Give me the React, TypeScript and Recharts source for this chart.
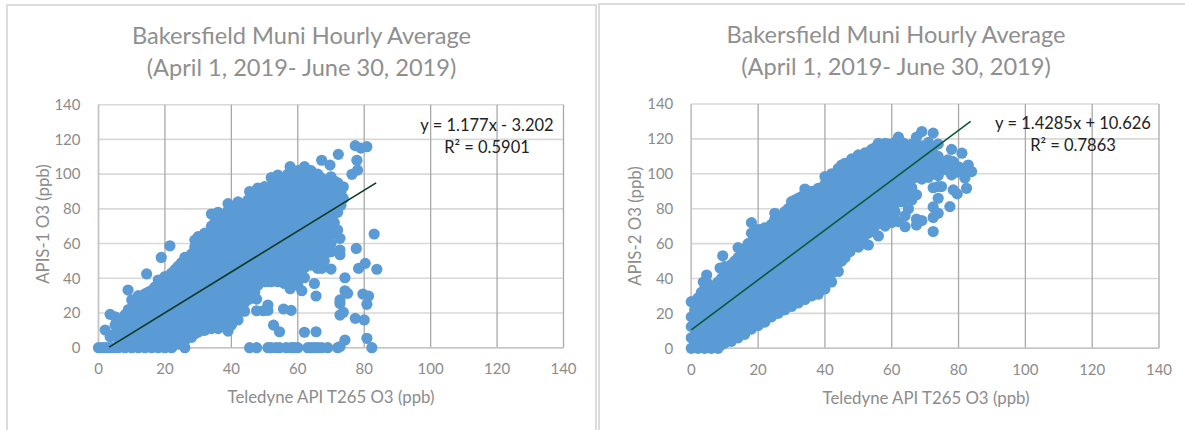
import React from 'react';
import { ScatterChart, Scatter, XAxis, YAxis, CartesianGrid } from 'recharts';

const axisTicks = [0, 20, 40, 60, 80, 100, 120, 140];
const titleLines = ['Bakersfield Muni Hourly Average', '(April 1, 2019- June 30, 2019)'];
const xAxisTitle = 'Teledyne API T265 O3 (ppb)';

// [x, y values read at that x]
const apis1Columns: [number, number[]][] = [
  [0, [0]], [1, [0]], [2, [0, 10.2]], [3, [0]], [3.5, [6.3, 19.2]], [4, [0, 7]], [5, [0, 8, 13, 17.8]],
  [6, [0, 5, 10, 14]], [8, [0, 5, 10, 15, 19]], [8.9, [33.2]], [10, [0, 5, 10, 15, 20, 27.5]],
  [12, [0, 5, 10, 15, 20, 25, 30]], [14, [0, 5, 10, 15, 20, 25, 31]], [14.5, [42.5]],
  [16, [0, 5, 10, 15, 20, 25, 30, 33]], [18, [0, 5, 10, 15, 20, 25, 30, 35, 39]], [18.9, [52]],
  [20, [0, 5, 10, 15, 20, 25, 30, 35, 41]], [21.5, [58.7]], [22, [0, 5, 10, 15, 20, 25, 30, 35, 39, 43]],
  [24, [2, 6, 11, 16, 21, 26, 31, 36, 41, 47]], [26, [0, 4, 9, 14, 19, 24, 29, 34, 39, 44, 49, 52]],
  [28, [6, 11, 16, 21, 26, 31, 36, 41, 46, 51, 54]], [30, [9, 14, 19, 24, 29, 34, 39, 44, 49, 54, 59, 64]],
  [32, [10, 15, 20, 25, 30, 35, 40, 45, 50, 55, 60, 66]], [34, [11, 16, 21, 26, 31, 36, 41, 46, 51, 56, 61, 66, 70, 77]],
  [36, [11, 16, 21, 26, 31, 36, 41, 46, 51, 56, 61, 66, 71, 78]], [38, [12, 17, 22, 27, 32, 37, 42, 47, 52, 57, 62, 67, 72, 76]],
  [39, [9.6, 83]], [40, [13, 18, 23, 28, 33, 38, 43, 48, 53, 58, 63, 68, 73, 78, 81]],
  [42, [16, 21, 26, 31, 36, 41, 46, 51, 56, 61, 66, 71, 76, 81, 84]], [44, [21, 26, 31, 36, 41, 46, 51, 56, 61, 66, 71, 76, 81, 83]],
  [45.5, [0, 28, 90]], [46, [33, 38, 43, 48, 53, 58, 63, 68, 73, 78, 83, 87]], [47.6, [0, 21.3, 28]],
  [48, [36, 41, 46, 51, 56, 61, 66, 71, 76, 81, 86, 92]], [49.6, [21.3]], [50, [38, 43, 48, 53, 58, 63, 68, 73, 78, 83, 88, 92.8]],
  [51, [0, 21.5, 24.6]], [52, [0, 38, 43, 48, 53, 58, 63, 68, 73, 78, 83, 88, 93, 98]], [52.7, [13]], [53.5, [0]], [54.5, [0, 9.2]],
  [54, [38, 43, 48, 53, 58, 63, 68, 73, 78, 83, 88, 93, 99.5]], [55.7, [22.3]], [56, [37, 42, 47, 52, 57, 62, 67, 72, 77, 82, 87, 92, 98]],
  [56.5, [0]], [57.7, [34, 104.3]], [58, [0, 21.5, 38, 43, 48, 53, 58, 63, 68, 73, 78, 83, 88, 93, 98]], [59, [0]],
  [60, [0, 36, 42, 47, 52, 57, 62, 67, 72, 77, 82, 87, 92, 97, 102]], [61.2, [32.8]], [62, [8.9, 40.3, 46, 51, 56, 61, 66, 71, 76, 81, 86, 91, 96, 104.3]],
  [63, [0]], [64, [0, 47.6, 52, 57, 62, 67, 72, 77, 82, 87, 92, 97, 102]], [65, [0, 37]], [65.5, [9.2, 29.8]],
  [66, [0, 45.7, 50, 55, 60, 65, 70, 75, 80, 85, 90, 95, 100]], [67.2, [0, 45.7, 108]], [68, [50, 55, 60, 65, 70, 75, 80, 88, 94]], [69, [0, 68.4]],
  [69.7, [105.2]], [70, [45.3, 55.3, 60, 65, 72, 78, 84, 92, 98.5]], [72, [0, 67.8, 78, 84, 90, 95]], [72.2, [111.4]], [72.7, [18.8, 27.5, 25.5, 53.6, 56.3, 63, 0.6]],
  [73.7, [20.4, 86, 92.7]], [74.2, [4.4, 32.8, 40.3]], [75, [31.3]], [76.3, [99.9]], [77.3, [16.9, 116.4]], [77.6, [57.2]], [77.8, [108]], [78, [102.3]],
  [78.3, [45.7]], [79, [115]], [79.6, [30.9]], [80, [16]], [80.3, [48.6]], [80.8, [5.4, 25, 115.8]], [81.3, [29.8]], [82.3, [0]], [83, [65.5]], [83.8, [45.2]],
];

// the dense core of the same cloud, read between the columns above
const apis1Core: [number, number[]][] = [
  [7, [2, 7, 12, 16]], [9, [2, 7, 12, 17, 22]], [11, [2, 7, 12, 17, 22, 27]], [13, [2, 7, 12, 17, 22, 27]],
  [15, [2, 7, 12, 17, 22, 27, 32]], [17, [2, 7, 12, 17, 22, 27, 32, 35]], [19, [2, 7, 12, 17, 22, 27, 32, 37]],
  [21, [2, 7, 12, 17, 22, 27, 32, 37, 40]], [23, [2, 7, 12, 17, 22, 27, 32, 37, 42, 45]],
  [25, [4, 9, 14, 19, 24, 29, 34, 39, 44, 49]], [27, [7, 12, 17, 22, 27, 32, 37, 42, 47, 52]],
  [29, [8, 13, 18, 23, 28, 33, 38, 43, 48, 53, 58, 62]], [31, [10, 15, 20, 25, 30, 35, 40, 45, 50, 55, 60, 64]],
  [33, [12, 17, 22, 27, 32, 37, 42, 47, 52, 57, 62, 66]], [35, [12, 17, 22, 27, 32, 37, 42, 47, 52, 57, 62, 67, 72]],
  [37, [13, 18, 23, 28, 33, 38, 43, 48, 53, 58, 63, 68, 73, 75]], [39, [14, 19, 24, 29, 34, 39, 44, 49, 54, 59, 64, 69, 74, 79]],
  [41, [16, 21, 26, 31, 36, 41, 46, 51, 56, 61, 66, 71, 76, 81]], [43, [21, 26, 31, 36, 41, 46, 51, 56, 61, 66, 71, 76, 81]],
  [45, [28, 33, 38, 43, 48, 53, 58, 63, 68, 73, 78, 83, 85]], [47, [32, 37, 42, 47, 52, 57, 62, 67, 72, 77, 82, 87, 90]],
  [49, [38, 43, 48, 53, 58, 63, 68, 73, 78, 83, 88, 90]], [51, [38, 43, 48, 53, 58, 63, 68, 73, 78, 83, 88, 92]],
  [53, [40, 45, 50, 55, 60, 65, 70, 75, 80, 85, 90, 97]], [55, [38, 43, 48, 53, 58, 63, 68, 73, 78, 83, 88, 93, 97]],
  [57, [38, 43, 48, 53, 58, 63, 68, 73, 78, 83, 88, 93, 100]], [59, [38, 43, 48, 53, 58, 63, 68, 73, 78, 83, 88, 93, 100]],
  [61, [42, 47, 52, 57, 62, 67, 72, 77, 82, 87, 92, 97, 100]], [63, [48, 53, 58, 63, 68, 73, 78, 83, 88, 93, 98, 102]],
  [65, [48, 53, 58, 63, 68, 73, 78, 83, 88, 93, 100]], [67, [50, 55, 60, 65, 70, 75, 80, 85, 90, 98]],
  [69, [55, 60, 65, 72, 77, 82, 87, 95]], [71, [72, 77, 82, 87, 92, 96]], [73, [82, 88, 90]],
];

const apis2Columns: [number, number[]][] = [
  [0, [0, 6, 12.4, 18, 26.7]], [2, [0, 5, 10, 15, 20, 25, 28.8]], [3.6, [38]], [4, [0, 5, 10, 15, 20, 25, 30, 34]], [4.6, [42]],
  [6, [0, 5, 10, 15, 20, 25, 30, 35]], [8, [0, 5, 10, 15, 20, 25, 30, 35, 38]], [9.4, [53]], [8.6, [46]],
  [10, [3, 8, 13, 18, 23, 28, 33, 38, 42, 46.8]], [12, [4, 9, 14, 19, 24, 29, 34, 39, 44, 48]],
  [14, [6, 11, 16, 21, 26, 31, 36, 41, 46, 52, 57.7]], [16, [8, 13, 18, 23, 28, 33, 38, 43, 48, 53, 57]],
  [18, [11, 16, 21, 26, 31, 36, 41, 46, 51, 56, 61, 66, 72]], [20, [13, 18, 23, 28, 33, 38, 43, 48, 53, 58, 63, 68]],
  [22, [15, 20, 25, 30, 35, 40, 45, 50, 55, 60, 65, 69]], [24, [18, 23, 28, 33, 38, 43, 48, 53, 58, 63, 68, 71]], [25, [74, 77.4]],
  [26, [20, 25, 30, 35, 40, 45, 50, 55, 60, 65, 70, 74]], [28, [22, 27, 32, 37, 42, 47, 52, 57, 62, 67, 72, 78.3]],
  [30, [24, 29, 34, 39, 44, 49, 54, 59, 64, 69, 74, 79, 84]], [32, [26, 31, 36, 41, 46, 51, 56, 61, 66, 71, 76, 81, 86]],
  [34, [28, 33, 38, 43, 48, 53, 58, 63, 68, 73, 78, 83, 88, 91.3]], [36, [30, 35, 40, 45, 50, 55, 60, 65, 70, 75, 80, 85, 90]],
  [38, [31, 36, 41, 46, 51, 56, 61, 66, 71, 76, 81, 86, 91.7]], [40, [34, 39, 44, 49, 54, 59, 64, 69, 74, 79, 84, 89, 94, 98.4]],
  [42, [38, 43, 48, 53, 58, 63, 68, 73, 78, 83, 88, 93, 98, 100]], [44, [44, 49, 54, 59, 64, 69, 74, 79, 84, 89, 94, 99, 103]],
  [46, [52, 57, 62, 67, 72, 77, 82, 87, 92, 97, 102, 106]], [47.5, [55.4]], [48, [58, 63, 68, 73, 78, 83, 88, 93, 98, 103, 108.5]],
  [50, [58, 63, 68, 73, 78, 83, 88, 93, 98, 103, 108, 110.8]], [52, [60, 65, 70, 75, 80, 85, 90, 95, 100, 105, 110, 112]],
  [53, [59.2]], [54, [67, 72, 77, 82, 87, 92, 97, 102, 107, 112, 114]], [56, [64.4, 72, 77, 82, 87, 92, 97, 102, 107, 112, 117.5]],
  [58, [70, 75, 80, 85, 90, 95, 100, 105, 110, 115, 117.5]], [60, [72, 77, 82, 87, 92, 97, 102, 107, 112, 117]],
  [62, [72.6, 84, 90, 95, 100, 105, 110, 115, 121]], [64, [69.7, 76, 88, 92, 97, 102, 107, 112, 117]], [66, [85, 92, 97, 102, 107, 112, 117]],
  [67.4, [70.7, 74, 88, 100, 105, 110, 115, 121]], [69, [73.2, 97, 102, 107, 112, 116, 124.2]], [71, [98, 103, 108, 113, 118]], [72.4, [66.9, 75, 81, 92, 100, 106, 112, 123.3]],
  [73.9, [77.4, 86, 92.7, 99, 104, 110, 117]], [74.9, [92.7, 102, 105]], [76.8, [108, 102]], [77.4, [81.2]], [77.9, [99.4, 104, 114]], [78.4, [90.8, 107]],
  [79.6, [88.5, 101]], [80, [104]], [81, [111.8]], [81.9, [97.5, 103]], [82.4, [91.7]], [82.9, [105]], [83.9, [101.3]],
];

const apis2Core: [number, number[]][] = [
  [1, [2, 7, 12, 17, 22]], [3, [2, 7, 12, 17, 22, 27, 32]], [5, [2, 7, 12, 17, 22, 27, 32, 37]], [7, [2, 7, 12, 17, 22, 27, 32, 36]],
  [9, [2, 7, 12, 17, 22, 27, 32, 37, 40]], [11, [5, 10, 15, 20, 25, 30, 35, 40, 46]], [13, [7, 12, 17, 22, 27, 32, 37, 42, 47, 50]],
  [15, [9, 14, 19, 24, 29, 34, 39, 44, 49, 52]], [17, [11, 16, 21, 26, 31, 36, 41, 46, 51, 56, 60]],
  [19, [14, 19, 24, 29, 34, 39, 44, 49, 54, 59, 64, 67]], [21, [16, 21, 26, 31, 36, 41, 46, 51, 56, 61, 66, 68]],
  [23, [18, 23, 28, 33, 38, 43, 48, 53, 58, 63, 69]], [25, [21, 26, 31, 36, 41, 46, 51, 56, 61, 66, 72]],
  [27, [23, 28, 33, 38, 43, 48, 53, 58, 63, 68, 73, 76]], [29, [25, 30, 35, 40, 45, 50, 55, 60, 65, 70, 75, 80]],
  [31, [27, 32, 37, 42, 47, 52, 57, 62, 67, 72, 77, 82, 85]], [33, [29, 34, 39, 44, 49, 54, 59, 64, 69, 74, 79, 84, 87]],
  [35, [31, 36, 41, 46, 51, 56, 61, 66, 71, 76, 81, 86, 89]], [37, [33, 38, 43, 48, 53, 58, 63, 68, 73, 78, 83, 89]],
  [39, [35, 40, 45, 50, 55, 60, 65, 70, 75, 80, 85, 92]], [41, [38, 43, 48, 53, 58, 63, 68, 73, 78, 83, 88, 93, 98]],
  [43, [45, 50, 55, 60, 65, 70, 75, 80, 85, 90, 95, 100]], [45, [50, 55, 60, 65, 70, 75, 80, 85, 90, 95, 100, 105]],
  [47, [57, 62, 67, 72, 77, 82, 87, 92, 97, 102, 106]], [49, [60, 65, 70, 75, 80, 85, 90, 95, 100, 105, 108]],
  [51, [62, 67, 72, 77, 82, 87, 92, 97, 102, 107, 110]], [53, [66, 71, 76, 81, 86, 91, 96, 101, 106, 112]],
  [55, [70, 75, 80, 85, 90, 95, 100, 105, 110, 115]], [57, [72, 77, 82, 87, 92, 97, 102, 107, 112, 116]],
  [59, [76, 81, 86, 91, 96, 101, 106, 111, 117]], [61, [78, 83, 88, 93, 98, 103, 108, 113, 118]],
  [63, [84, 89, 94, 99, 104, 109, 114, 118]], [65, [80, 90, 95, 100, 105, 110, 116]], [67, [88, 98, 103, 108, 115]],
  [69, [104, 109, 114]], [71, [100, 105, 110, 115]],
];

const trend1 = [{ x: 3.2, y: 0.3 }, { x: 83.6, y: 95 }];
const trend2 = [{ x: 0, y: 10.6 }, { x: 83.6, y: 130 }];

const toPoints = (cols: [number, number[]][]) => cols.flatMap(([x, ys]) => ys.map((y) => ({ x, y })));

const FONT = 'Lato, "Open Sans", sans-serif';
const GREY = '#8c8c8c';

const dot = (p: any) => <circle cx={p.cx} cy={p.cy} r={5.6} fill="#5b9bd5" />;
const noDot = () => <g />;

type PanelProps = {
  left: number; plotLeft: number; plotRight: number; plotTop: number; plotBottom: number;
  yTitle: string; yTitleX: number; yTitleY: number; xTitleX: number; xTitleY: number;
  titleX: number; titleY: number; eqX: number; eqY: number; eq: string; r2: string;
  cols: [number, number[]][]; trend: { x: number; y: number }[]; trendColor: string;
};

const Abs = ({ x, y, size, color, children, rotate }: any) => (
  <div style={{
    position: 'absolute', left: x, top: y, transform: `translate(-50%,-50%)${rotate ? ' rotate(-90deg)' : ''}`,
    whiteSpace: 'nowrap', fontFamily: FONT, fontSize: size, color, lineHeight: 1,
  }}>{children}</div>
);

const W = 1185;
const H = 430;

function Panel(p: PanelProps) {
  return (
    <>
      <div style={{ position: 'absolute', left: p.left, top: 0 }}>
        <ScatterChart
          width={W - p.left > 595 ? 595 : W - p.left}
          height={H}
          margin={{
            top: p.plotTop, bottom: H - p.plotBottom - 40,
            left: p.plotLeft - p.left - 40,
            right: (W - p.left > 595 ? 595 : W - p.left) - (p.plotRight - p.left),
          }}
        >
          <CartesianGrid horizontal vertical={false} stroke="#d9d9d9" strokeWidth={1.6} />
          <CartesianGrid horizontal={false} vertical stroke="#a9a9a9" strokeWidth={1.3} />
          <XAxis
            type="number" dataKey="x" domain={[0, 140]} ticks={axisTicks} interval={0} height={40}
            axisLine={{ stroke: '#c4c4c4', strokeWidth: 1.5 }} tickLine={false} tickMargin={10}
            tick={{ fill: GREY, fontSize: 15, fontFamily: FONT }}
          />
          <YAxis
            type="number" dataKey="y" domain={[0, 140]} ticks={axisTicks} interval={0} width={40}
            axisLine={{ stroke: '#c4c4c4', strokeWidth: 1.5 }} tickLine={false} tickMargin={12}
            tick={{ fill: GREY, fontSize: 15, fontFamily: FONT }}
          />
          <Scatter data={toPoints(p.cols)} shape={dot} isAnimationActive={false} />
          <Scatter
            data={p.trend} shape={noDot} isAnimationActive={false}
            line={{ stroke: p.trendColor, strokeWidth: 1.6 }}
          />
        </ScatterChart>
      </div>
      <Abs x={p.titleX} y={p.titleY} size={23.6} color="#8f8f8f">{titleLines[0]}</Abs>
      <Abs x={p.titleX} y={p.titleY + 32} size={23.6} color="#8f8f8f">{titleLines[1]}</Abs>
      <Abs x={p.xTitleX} y={p.xTitleY} size={16.8} color={GREY}>{xAxisTitle}</Abs>
      <Abs x={p.yTitleX} y={p.yTitleY} size={16.8} color={GREY} rotate>{p.yTitle}</Abs>
      <Abs x={p.eqX} y={p.eqY} size={16.5} color="#222">{p.eq}</Abs>
      <Abs x={p.eqX} y={p.eqY + 22} size={16.5} color="#222">{p.r2}</Abs>
    </>
  );
}

export default function App() {
  return (
    <div style={{ position: 'absolute', left: 0, top: 0, width: W, height: H, overflow: 'hidden', background: '#fff' }}>
      <div style={{ position: 'absolute', left: 6, top: 4, width: 587, height: 424, border: '2px solid #dcdcdc' }} />
      <div style={{ position: 'absolute', left: 598, top: 3, width: 600, height: 440, border: '2px solid #dcdcdc' }} />
      <Panel
        left={0} plotLeft={98.5} plotRight={563.5} plotTop={104.7} plotBottom={347.7}
        yTitle="APIS-1 O3 (ppb)" yTitleX={43} yTitleY={224} xTitleX={331} xTitleY={397}
        titleX={301.5} titleY={36} eqX={487} eqY={125} eq="y = 1.177x - 3.202" r2="R² = 0.5901"
        cols={[...apis1Core, ...apis1Columns]} trend={trend1} trendColor="#08391f"
      />
      <Panel
        left={590} plotLeft={691.3} plotRight={1159} plotTop={104} plotBottom={348.3}
        yTitle="APIS-2 O3 (ppb)" yTitleX={635} yTitleY={226} xTitleX={926} xTitleY={398}
        titleX={896} titleY={35} eqX={1073} eqY={123} eq="y = 1.4285x + 10.626" r2="R² = 0.7863"
        cols={[...apis2Core, ...apis2Columns]} trend={trend2} trendColor="#0b5a3a"
      />
    </div>
  );
}
